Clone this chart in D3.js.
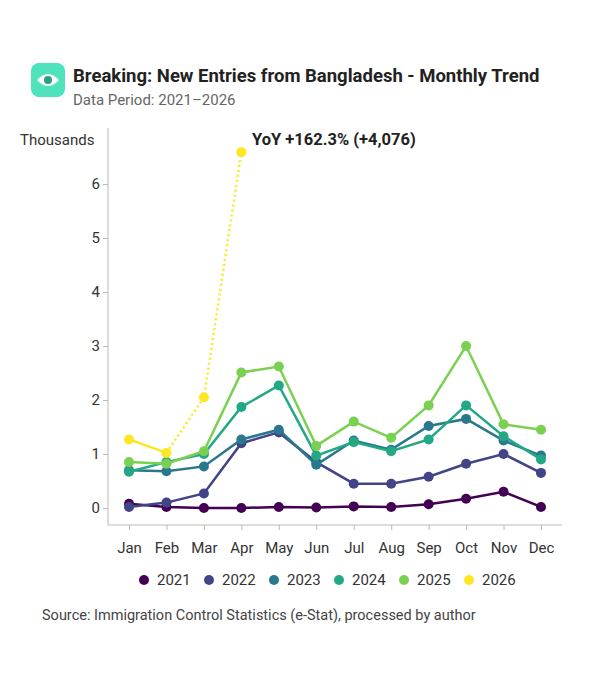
<!DOCTYPE html>
<html><head><meta charset="utf-8">
<script src="https://cdn.jsdelivr.net/npm/d3@7"></script>
<style>body{margin:0;background:#fff;font-family:Roboto,"Noto Sans",sans-serif}</style>
</head><body><svg id="c" width="604" height="680"></svg>
<script>
const months = ["Jan","Feb","Mar","Apr","May","Jun","Jul","Aug","Sep","Oct","Nov","Dec"];
const years = ["2021","2022","2023","2024","2025","2026"];
const colors = ["#440154","#414487","#2a788e","#22a884","#7ad151","#fde725"];
const v2021 = [0.08,0.02,0.0,0.0,0.02,0.01,0.03,0.02,0.07,0.17,0.3,0.02];
const v2022 = [0.02,0.1,0.27,1.2,1.4,0.85,0.45,0.45,0.58,0.82,1.0,0.65];
const v2023 = [0.7,0.68,0.77,1.27,1.45,0.8,1.25,1.08,1.52,1.65,1.25,0.97];
const v2024 = [0.67,0.85,1.0,1.87,2.27,0.97,1.22,1.05,1.27,1.9,1.33,0.9];
const v2025 = [0.85,0.82,1.05,2.51,2.62,1.15,1.6,1.3,1.9,3.0,1.55,1.45];
const v2026 = [1.27,1.02,2.05,6.59];
const series = [v2021,v2022,v2023,v2024,v2025,v2026];
const yTicks = [0,1,2,3,4,5,6];

const svg = d3.select("#c");
const x = d3.scalePoint().domain(months).range([129,541]);
const y = d3.scaleLinear().domain([0,6]).range([508,184]);

// header
svg.append("rect").attr("x",31).attr("y",63).attr("width",34).attr("height",34).attr("rx",8).attr("fill","#4fe3bd");
svg.append("path").attr("d","M37,80 Q48,68 59,80 Q48,92 37,80Z").attr("fill","#fff");
svg.append("circle").attr("cx",48).attr("cy",80).attr("r",4).attr("fill","#2a9d86");
svg.append("text").attr("x",73).attr("y",82).attr("font-size",18.5).attr("font-weight","bold").attr("fill","#222").text("Breaking: New Entries from Bangladesh - Monthly Trend");
svg.append("text").attr("x",73).attr("y",105).attr("font-size",15).attr("fill","#666").text("Data Period: 2021–2026");
svg.append("text").attr("x",20).attr("y",145).attr("font-size",15).attr("fill","#333").text("Thousands");

// axes
const yAxis = svg.append("g").attr("transform","translate(108,0)").call(d3.axisLeft(y).tickValues(yTicks).tickSize(5).tickFormat(d3.format("d")));
yAxis.select(".domain").attr("d","M0,128V525");
const xAxis = svg.append("g").attr("transform","translate(0,525)").call(d3.axisBottom(x).tickSize(5));
xAxis.select(".domain").attr("d","M108,0H562");
svg.selectAll(".tick text").attr("font-size",15).attr("fill","#333").attr("font-family","Roboto,sans-serif");
svg.selectAll(".domain,.tick line").attr("stroke","#bbb");
xAxis.selectAll(".tick text").attr("dy","1.3em");

const line = d3.line().x((d,i)=>x(months[i])).y(d=>y(d));
series.forEach((s,k)=>{
  const g = svg.append("g");
  if (k===5) {
    g.append("path").attr("d",line(s.slice(0,2))).attr("fill","none").attr("stroke",colors[k]).attr("stroke-width",2.5);
    g.append("path").attr("d",d3.line().x((d,i)=>x(months[i+1])).y(d=>y(d))(s.slice(1))).attr("fill","none").attr("stroke",colors[k]).attr("stroke-width",2.5).attr("stroke-dasharray","2,3");
  } else {
    g.append("path").attr("d",line(s)).attr("fill","none").attr("stroke",colors[k]).attr("stroke-width",2.5);
  }
  g.selectAll("circle").data(s).join("circle").attr("cx",(d,i)=>x(months[i])).attr("cy",d=>y(d)).attr("r",5).attr("fill",colors[k]);
});

svg.append("text").attr("x",252).attr("y",145).attr("font-size",16.5).attr("font-weight","bold").attr("fill","#222").text("YoY +162.3% (+4,076)");

// legend
const lg = svg.append("g");
years.forEach((yr,k)=>{
  const lx = 144 + k*65;
  lg.append("circle").attr("cx",lx).attr("cy",580).attr("r",5).attr("fill",colors[k]);
  lg.append("text").attr("x",lx+13).attr("y",585).attr("font-size",15).attr("fill","#333").text(yr);
});
svg.append("text").attr("x",42).attr("y",620).attr("font-size",14.5).attr("fill","#444").text("Source: Immigration Control Statistics (e-Stat), processed by author");
</script></body></html>
